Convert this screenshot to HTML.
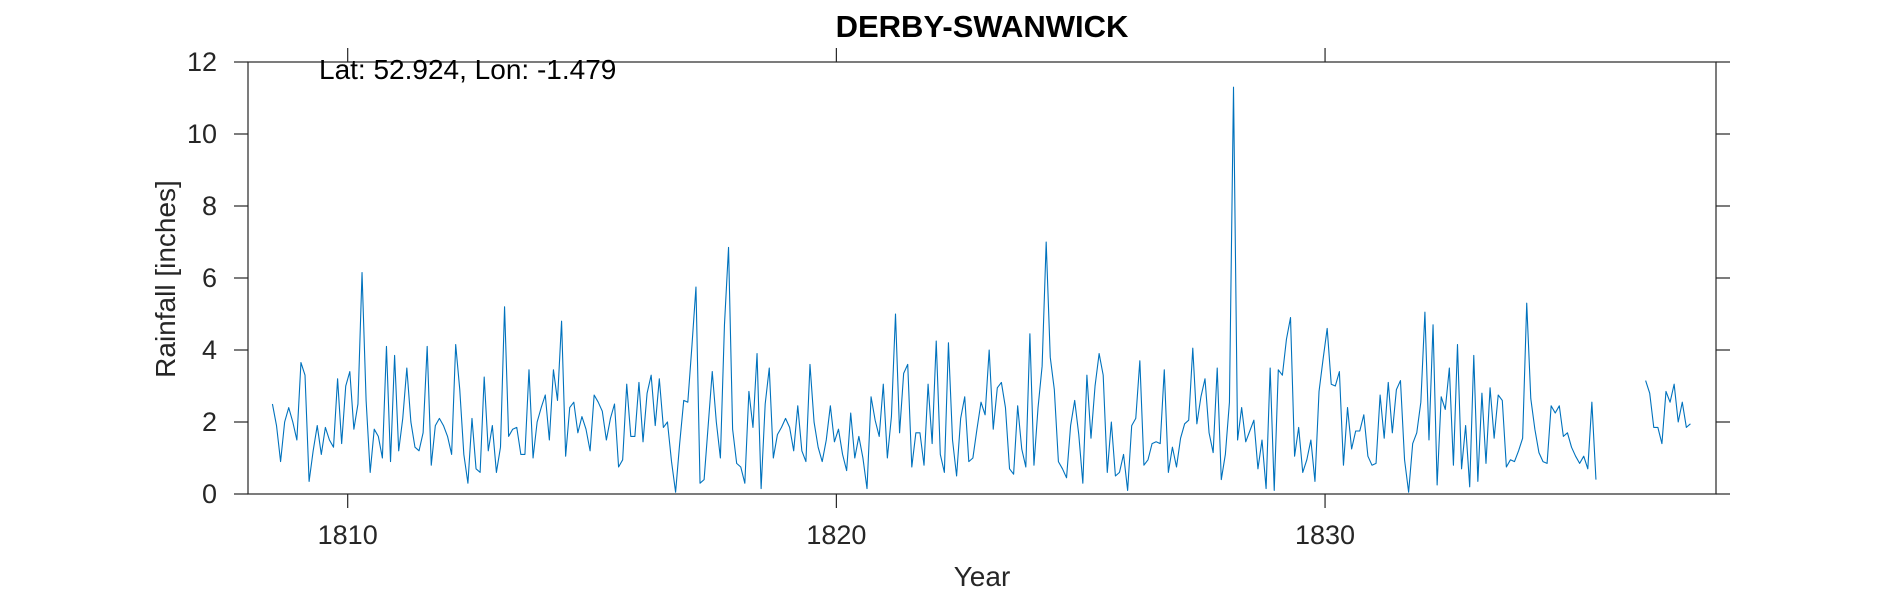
<!DOCTYPE html>
<html><head><meta charset="utf-8"><style>
html,body{margin:0;padding:0;background:#fff;}
svg{display:block;font-family:"Liberation Sans",Arial,sans-serif;}
</style></head><body>
<svg id="chart" width="1890" height="591" viewBox="0 0 1890 591" xmlns="http://www.w3.org/2000/svg">
<rect width="1890" height="591" fill="#fff"/>
<g id="axes"></g>
</svg>
<script>
const yTicks=[0,2,4,6,8,10,12];
const xTicks=[1810,1820,1830];
const start1=1808.46;
const series1=[2.5,1.9,0.9,2.0,2.4,2.0,1.5,3.65,3.3,0.35,1.2,1.9,1.1,1.85,1.5,1.3,3.2,1.4,3.0,3.4,1.8,2.5,6.15,2.6,0.6,1.8,1.6,1.0,4.1,0.9,3.85,1.2,2.1,3.5,2.0,1.3,1.2,1.7,4.1,0.8,1.9,2.1,1.9,1.6,1.1,4.15,2.9,1.1,0.3,2.1,0.7,0.6,3.25,1.2,1.9,0.6,1.3,5.2,1.6,1.8,1.85,1.1,1.1,3.45,1.0,2.0,2.4,2.75,1.5,3.45,2.6,4.8,1.05,2.4,2.55,1.7,2.15,1.8,1.2,2.75,2.55,2.3,1.5,2.1,2.5,0.75,0.95,3.05,1.6,1.6,3.1,1.45,2.8,3.3,1.9,3.2,1.85,2.0,0.9,0.05,1.4,2.6,2.55,4.1,5.75,0.3,0.4,1.9,3.4,2.0,1.0,4.7,6.85,1.8,0.85,0.75,0.3,2.85,1.85,3.9,0.15,2.5,3.5,1.0,1.65,1.85,2.1,1.85,1.2,2.45,1.2,0.9,3.6,2.0,1.3,0.9,1.5,2.45,1.45,1.8,1.1,0.65,2.25,1.0,1.6,1.0,0.15,2.7,2.05,1.6,3.05,1.0,2.15,5.0,1.7,3.35,3.6,0.75,1.7,1.7,0.8,3.05,1.4,4.25,1.1,0.6,4.2,1.5,0.5,2.1,2.7,0.9,1.0,1.8,2.55,2.2,4.0,1.8,2.95,3.1,2.4,0.7,0.55,2.45,1.25,0.75,4.45,0.8,2.4,3.55,7.0,3.8,2.9,0.9,0.7,0.45,1.9,2.6,1.65,0.3,3.3,1.55,3.0,3.9,3.3,0.6,2.0,0.5,0.6,1.1,0.1,1.9,2.1,3.7,0.8,0.95,1.4,1.45,1.4,3.45,0.6,1.3,0.75,1.55,1.95,2.05,4.05,1.95,2.7,3.2,1.7,1.15,3.5,0.4,1.1,2.55,11.3,1.5,2.4,1.45,1.75,2.05,0.7,1.5,0.15,3.5,0.1,3.45,3.3,4.3,4.9,1.05,1.85,0.6,0.95,1.5,0.35,2.85,3.75,4.6,3.05,3.0,3.4,0.8,2.4,1.25,1.75,1.75,2.2,1.05,0.8,0.85,2.75,1.55,3.1,1.7,2.9,3.15,0.95,0.05,1.4,1.7,2.55,5.05,1.5,4.7,0.25,2.7,2.35,3.5,0.8,4.15,0.7,1.9,0.2,3.85,0.35,2.8,0.85,2.95,1.55,2.75,2.6,0.75,0.95,0.9,1.2,1.55,5.3,2.65,1.8,1.15,0.9,0.85,2.45,2.25,2.45,1.6,1.7,1.3,1.05,0.85,1.05,0.7,2.55,0.4];
const start2=1836.56;
const series2=[3.15,2.8,1.85,1.85,1.4,2.85,2.55,3.05,2.0,2.55,1.85,1.95];
const NS="http://www.w3.org/2000/svg";
const L=248,R=1716,T=62,B=494,X0=1807.96,X1=1838.0,Y0=0,Y1=12;
const sx=v=>L+(v-X0)/(X1-X0)*(R-L);
const sy=v=>B-(v-Y0)/(Y1-Y0)*(B-T);
const g=document.getElementById('axes');
function mk(tag,attrs,text){const e=document.createElementNS(NS,tag);for(const k in attrs)e.setAttribute(k,attrs[k]);if(text!==undefined)e.textContent=text;g.appendChild(e);return e;}
let box=mk('rect',{x:L,y:T,width:R-L,height:B-T,fill:'none',stroke:'#262626','stroke-width':1.2});


yTicks.forEach(v=>{
 const y=sy(v);
 let t1=mk('line',{x1:L-14,x2:L,y1:y,y2:y,stroke:'#262626','stroke-width':1.2});
 
 
 let t2=mk('line',{x1:R,x2:R+14,y1:y,y2:y,stroke:'#262626','stroke-width':1.2});
 
 
 let lb=mk('text',{x:L-31,y:y+9,'text-anchor':'end','font-size':27,fill:'#262626'},String(v));
 
 
});
xTicks.forEach(v=>{
 const x=sx(v);
 let t1=mk('line',{x1:x,x2:x,y1:B,y2:B+14,stroke:'#262626','stroke-width':1.2});
 
 
 let t2=mk('line',{x1:x,x2:x,y1:T-14,y2:T,stroke:'#262626','stroke-width':1.2});
 
 
 let lb=mk('text',{x:x,y:544,'text-anchor':'middle','font-size':27,fill:'#262626'},String(v));
 
 
});
function drawSeries(arr,start,name){
 const pts=arr.map((v,i)=>sx(start+i/12).toFixed(2)+','+sy(v).toFixed(2)).join(' ');
 let p=mk('polyline',{points:pts,fill:'none',stroke:'#0072BD','stroke-width':1.1,'stroke-linejoin':'round'});
 
 
}
drawSeries(series1,start1,'rainfall-line-1808-1835');
drawSeries(series2,start2,'rainfall-line-1836-1837');
let ti=mk('text',{x:(L+R)/2,y:37,'text-anchor':'middle','font-size':31,'font-weight':'bold',fill:'#000'},'DERBY-SWANWICK');


let an=mk('text',{x:319,y:79,'font-size':28,fill:'#000'},'Lat: 52.924, Lon: -1.479');


let yl=mk('text',{x:0,y:0,'text-anchor':'middle','font-size':28,fill:'#262626',transform:'translate(175,279) rotate(-90)'},'Rainfall [inches]');


let xl=mk('text',{x:(L+R)/2,y:586,'text-anchor':'middle','font-size':28,fill:'#262626'},'Year');


</script>
</body></html>
